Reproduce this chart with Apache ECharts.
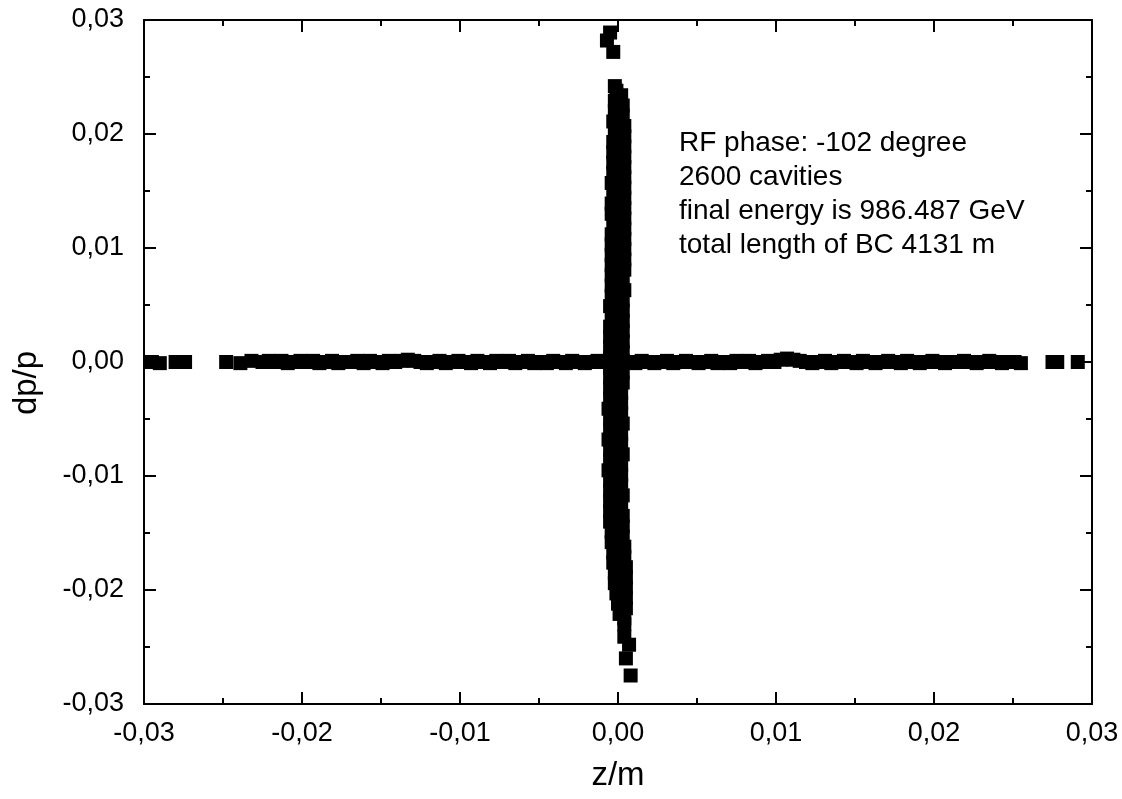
<!DOCTYPE html>
<html>
<head>
<meta charset="utf-8">
<script src="https://cdn.jsdelivr.net/npm/echarts@6/dist/echarts.min.js"></script>
<style>html,body{margin:0;padding:0;background:#fff}#c{width:1122px;height:799px}</style>
</head>
<body>
<div id="c"></div>
<script>
// Horizontal arm (dp/p ~ 0)
var zH = [-0.0295,-0.0290,-0.0280,-0.0274,-0.0248,-0.0239,-0.0232,
-0.0225,-0.0221,-0.0217,-0.0213,-0.0209,-0.0205,-0.0201,-0.0197,-0.0193,-0.0189,
-0.0185,-0.0181,-0.0177,-0.0173,-0.0169,-0.0165,-0.0161,-0.0157,-0.0153,-0.0149,
-0.0145,-0.0141,-0.0137,-0.0133,-0.0129,-0.0125,-0.0121,-0.0117,-0.0113,-0.0109,
-0.0105,-0.0101,-0.0097,-0.0093,-0.0089,-0.0085,-0.0081,-0.0077,-0.0073,-0.0069,
-0.0065,-0.0061,-0.0057,-0.0053,-0.0049,-0.0045,-0.0041,-0.0037,-0.0033,-0.0029,
-0.0025,-0.0021,-0.0017,-0.0013,-0.0009,-0.0005,-0.0001,0.0003,0.0007,0.0011,
0.0015,0.0019,0.0023,0.0027,0.0031,0.0035,0.0039,0.0043,0.0047,0.0051,
0.0055,0.0059,0.0063,0.0067,0.0071,0.0075,0.0079,0.0083,0.0087,0.0091,
0.0095,0.0099,0.0103,0.0107,0.0111,0.0115,0.0119,0.0123,0.0127,0.0131,
0.0135,0.0139,0.0143,0.0147,0.0151,0.0155,0.0159,0.0163,0.0167,0.0171,
0.0175,0.0179,0.0183,0.0187,0.0191,0.0195,0.0199,0.0203,0.0207,0.0211,
0.0215,0.0219,0.0223,0.0227,0.0231,0.0235,0.0239,0.0243,0.0247,0.0251,0.0255,
0.0275,0.0278,0.0291];
var dpH = [0.0000,-0.0001,0.0000,0.0000,0.0000,-0.0001,0.0001,
0.0000,0.0001,0.0000,0.0001,-0.0001,0.0000,0.0001,0.0000,0.0001,-0.0001,
0.0000,0.0001,-0.0001,0.0000,0.0000,0.0001,-0.0001,0.0001,0.0000,-0.0001,
0.0001,0.0000,0.0001,0.0002,0.0001,0.0000,-0.0001,0.0000,0.0001,-0.0001,
0.0000,0.0001,0.0000,-0.0001,0.0001,0.0000,-0.0001,0.0001,0.0000,0.0001,
-0.0001,0.0000,0.0001,-0.0001,0.0000,-0.0001,0.0001,0.0000,-0.0001,0.0001,
0.0000,-0.0001,0.0000,0.0001,0.0000,-0.0001,0.0000,0.0001,0.0000,-0.0001,
0.0001,0.0000,-0.0001,0.0000,0.0001,-0.0001,0.0000,0.0001,0.0000,-0.0001,
0.0000,0.0001,-0.0001,0.0000,-0.0001,0.0001,0.0000,0.0001,-0.0001,0.0000,
0.0001,0.0000,0.0002,0.0003,0.0002,0.0001,0.0000,-0.0001,0.0000,0.0001,
-0.0001,0.0000,0.0001,0.0000,-0.0001,0.0001,0.0000,-0.0001,0.0000,0.0001,
0.0000,-0.0001,0.0001,0.0000,-0.0001,0.0000,0.0001,0.0000,-0.0001,0.0000,
0.0000,0.0001,0.0000,-0.0001,0.0000,0.0001,0.0000,-0.0001,0.0000,0.0000,-0.0001,
0.0000,0.0000,0.0000];

// Vertical arm (z ~ 0), left edge of the band and upper tip
var dpVL = [0.0289,0.0282,0.0272,0.0242,
0.0238,0.0229,0.0220,0.0211,0.0202,0.0193,0.0184,0.0175,0.0166,0.0157,0.0148,0.0139,
0.0130,0.0121,0.0112,0.0103,0.0094,0.0085,0.0076,0.0067,0.0058,0.0049,0.0040,0.0031,
0.0022,0.0013,0.0004,-0.0005,-0.0014,-0.0023,-0.0032,-0.0041,-0.0050,-0.0059,-0.0068,
-0.0077,-0.0086,-0.0095,-0.0104,-0.0113,-0.0122,-0.0131,-0.0140,-0.0149,-0.0158,-0.0167,
-0.0176,-0.0185,-0.0194,-0.0203,-0.0212,-0.0221];
var zVL = [-0.0005,-0.0007,-0.0003,-0.0002,
-0.0001,-0.0002,-0.0002,-0.0003,-0.0002,-0.0003,-0.0003,-0.0003,-0.0003,-0.0004,-0.0003,-0.0004,
-0.0004,-0.0003,-0.0004,-0.0004,-0.0004,-0.0004,-0.0004,-0.0004,-0.0004,-0.0005,-0.0004,-0.0005,
-0.0005,-0.0005,-0.0005,-0.0005,-0.0005,-0.0005,-0.0005,-0.0006,-0.0005,-0.0005,-0.0006,
-0.0005,-0.0005,-0.0006,-0.0005,-0.0005,-0.0005,-0.0005,-0.0005,-0.0004,-0.0004,-0.0003,
-0.0003,-0.0002,-0.0002,-0.0001,0.0000,0.0001];
// Vertical arm, right edge of the band and lower tip
var dpVR = [0.0234,0.0225,0.0216,0.0207,0.0198,0.0189,0.0180,0.0171,0.0162,0.0153,0.0144,
0.0135,0.0126,0.0117,0.0108,0.0099,0.0090,0.0081,0.0072,0.0063,0.0054,0.0045,0.0036,
0.0027,0.0018,0.0009,0.0000,-0.0009,-0.0018,-0.0027,-0.0036,-0.0045,-0.0054,-0.0063,
-0.0072,-0.0081,-0.0090,-0.0099,-0.0108,-0.0117,-0.0126,-0.0135,-0.0144,-0.0153,-0.0162,
-0.0171,-0.0180,-0.0189,-0.0198,-0.0207,-0.0216,-0.0225,
-0.0230,-0.0241,-0.0248,-0.0260,-0.0275];
var zVR = [0.0002,0.0003,0.0003,0.0004,0.0004,0.0004,0.0004,0.0004,0.0004,0.0004,0.0004,
0.0004,0.0004,0.0004,0.0004,0.0004,0.0004,0.0004,0.0003,0.0004,0.0003,0.0003,0.0003,
0.0003,0.0003,0.0003,0.0003,0.0003,0.0003,0.0002,0.0002,0.0002,0.0003,0.0002,
0.0002,0.0003,0.0002,0.0002,0.0002,0.0003,0.0002,0.0003,0.0003,0.0003,0.0004,
0.0004,0.0005,0.0005,0.0005,0.0005,0.0005,0.0004,
0.0004,0.0004,0.0007,0.0005,0.0008];

var annotation = ['RF phase: -102 degree','2600 cavities','final energy is 986.487 GeV','total length of BC 4131 m'];
var xTitle = 'z/m', yTitle = 'dp/p';

function pairs(a, b){ var o=[]; for(var i=0;i<a.length;i++) o.push([a[i], b[i]]); return o; }
var pts = pairs(zH, dpH).concat(pairs(zVL, dpVL)).concat(pairs(zVR, dpVR));

function fmt(v){ var s = (Math.round(v*100)/100).toFixed(2).replace('.', ','); if (s === '-0,00') s = '0,00'; return s; }
var font = 'Liberation Sans, Arial, sans-serif';
var lineStyle = {color:'#000', width:2};
function axisBase(extra){
  var a = {
    type:'value', min:-0.03, max:0.03, interval:0.01,
    axisLine:{show:true, onZero:false, lineStyle:lineStyle},
    axisTick:{show:true, inside:true, length:12, lineStyle:{color:'#000', width:2}},
    minorTick:{show:true, splitNumber:2, length:6, lineStyle:{color:'#000', width:2}},
    splitLine:{show:false}, minorSplitLine:{show:false},
    axisLabel:{show:false}
  };
  for (var k in extra) a[k] = extra[k];
  return a;
}
var chart = echarts.init(document.getElementById('c'), null, {renderer:'canvas'});
chart.setOption({
  animation:false,
  backgroundColor:'#fff',
  grid:{left:144, right:30, top:20, bottom:95},
  xAxis:[
    axisBase({position:'bottom', name:xTitle, nameLocation:'middle', nameGap:55,
      nameTextStyle:{color:'#000', fontFamily:font, fontSize:33},
      axisLabel:{show:true, color:'#000', fontFamily:font, fontSize:27, formatter:fmt, margin:16}}),
    axisBase({position:'top'})
  ],
  yAxis:[
    axisBase({position:'left',
      axisLabel:{show:true, color:'#000', fontFamily:font, fontSize:27, formatter:fmt, margin:20}}),
    axisBase({position:'right'})
  ],
  graphic:[{
    type:'text', left:679, top:126,
    style:{text:annotation.join('\n'), fill:'#000', font:'28px ' + font, lineHeight:34}
  },{
    type:'text', x:27, y:383, rotation:Math.PI/2,
    style:{text:yTitle, fill:'#000', font:'33px ' + font, align:'center', verticalAlign:'middle'}
  }],
  series:[{
    type:'scatter', xAxisIndex:0, yAxisIndex:0,
    symbol:'rect', symbolSize:14,
    itemStyle:{color:'#000', opacity:1},
    data:pts
  }]
});
</script>
</body>
</html>
